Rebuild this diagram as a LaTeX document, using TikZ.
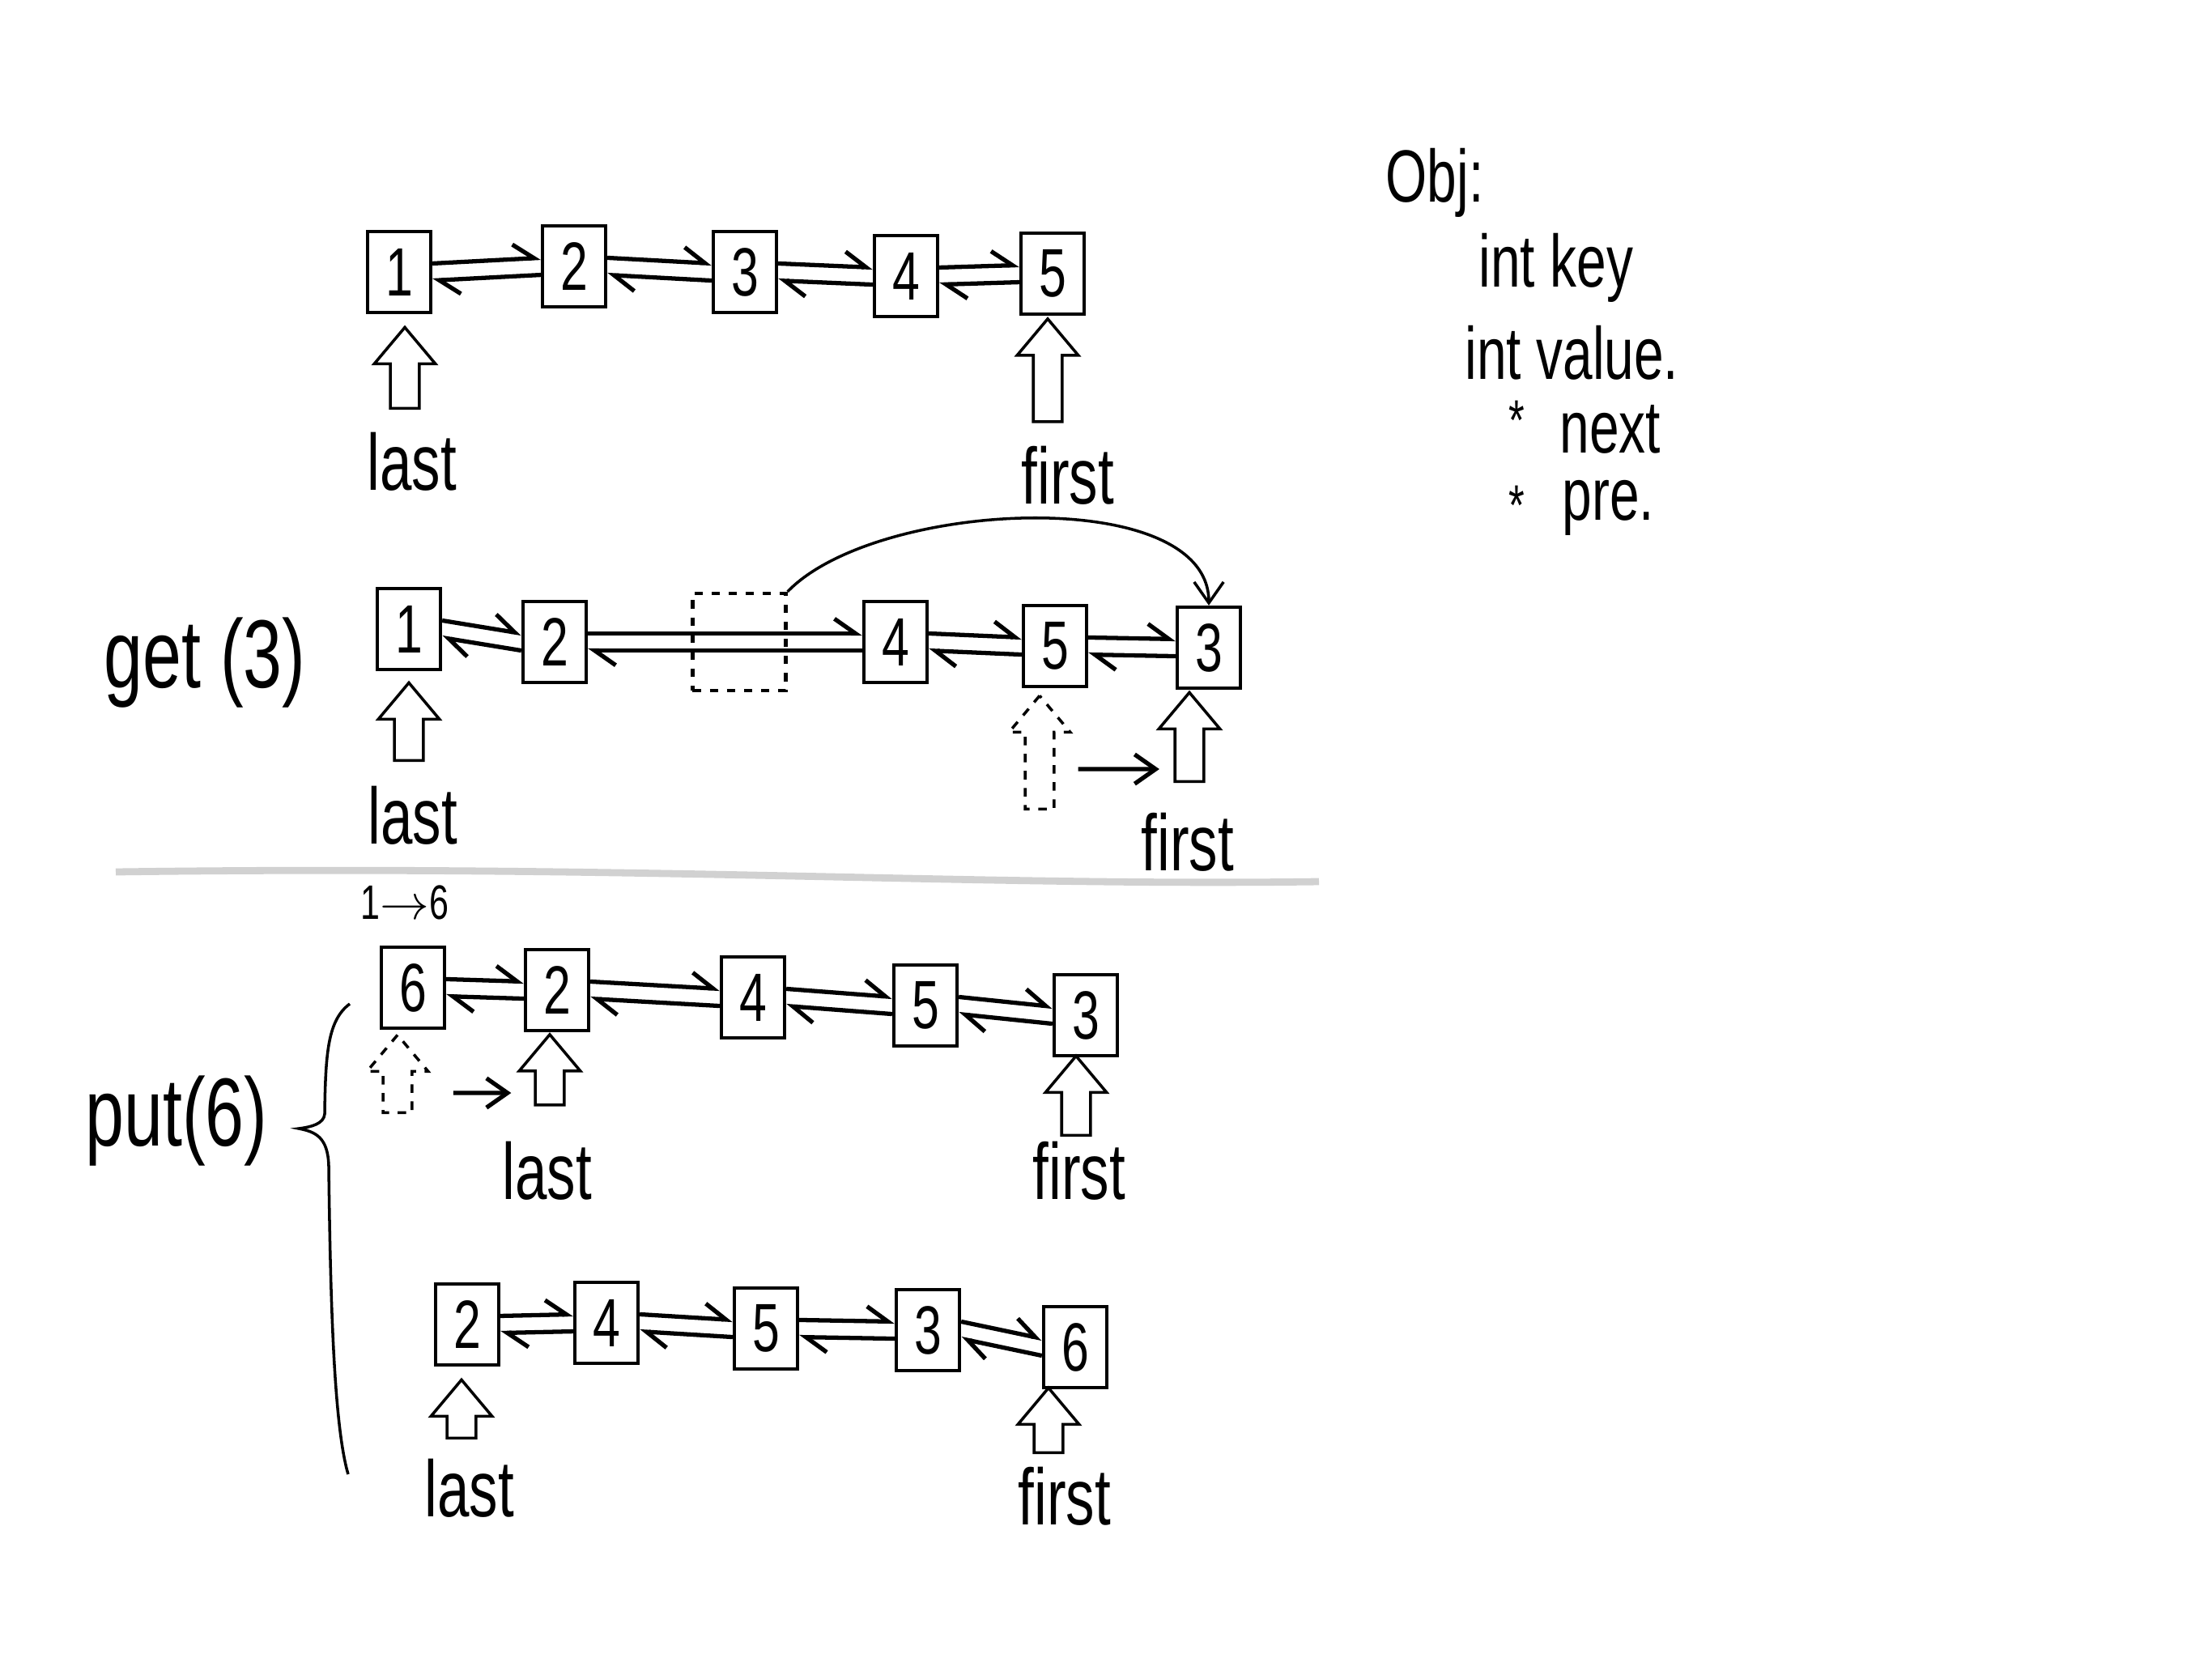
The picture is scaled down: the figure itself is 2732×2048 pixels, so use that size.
\documentclass[tikz,border=0pt]{standalone}
\usepackage{fontspec}
\setmainfont[FakeStretch=0.72]{Liberation Sans}
\usetikzlibrary{positioning,arrows.meta,shapes.arrows}

\begin{document}
\begin{tikzpicture}[x=0.01cm, y=-0.01cm, line width=1pt,
  cell/.style={draw, line width=1.2pt, minimum width=0.78cm, minimum height=1.0cm, inner sep=0pt, font=\fontsize{24}{24}\selectfont},
  hole/.style={cell, dashed, minimum width=1.15cm, minimum height=1.2cm},
  ptr/.style={draw, single arrow, shape border rotate=90, inner sep=0.16cm, single arrow head extend=0.2cm, single arrow tip angle=80},
  tag/.style={font=\fontsize{28}{28}\selectfont},
  bigtag/.style={font=\fontsize{34}{34}\selectfont},
  field/.style={anchor=west, inner sep=0pt, font=\fontsize{26}{26}\selectfont},
  star/.style={inner sep=0pt, font=\fontsize{20}{20}\selectfont},
  link/.style={line width=1.5pt, -{Straight Barb[harpoon, angle=70:9pt]}},
  move/.style={line width=1.5pt, -{Straight Barb[angle=70:9pt]}},
  jump/.style={line width=1pt, -{Straight Barb[angle=70:9pt]}}]
\useasboundingbox (0,0) rectangle (2732,2048);
% ---- initial list
\node[cell] (a1) at (493,336) {1};
\node[cell] (a2) at (709,329) {2};
\node[cell] (a3) at (920,336) {3};
\node[cell] (a4) at (1119,341) {4};
\node[cell] (a5) at (1300,338) {5};
\node[ptr, minimum height=1.0cm] (alast) at (500,465) {};
\node[ptr, minimum height=1.27cm] (afirst) at (1294,468) {};
\node[tag] at (509,570) {last};
\node[tag] at (1319,587) {first};
% ---- get(3)
\node[bigtag] (get) at (253,819) {get (3)};
\node[cell] (b1) at (505,777) {1};
\node[cell] (b2) at (685,793) {2};
\node[hole] (gap) at (913,793) {};
\node[cell] (b4) at (1106,793) {4};
\node[cell] (b5) at (1303,798) {5};
\node[cell] (b3) at (1493,800) {3};
\draw[jump] (gap.north east) .. controls +(110,-114) and +(0,-150) .. (b3.north);
\node[ptr, minimum height=0.96cm] (blast) at (505,902) {};
\node[ptr, dashed, minimum height=1.4cm] (bold) at (1284,940) {};
\node[ptr, minimum height=1.1cm] (bfirst) at (1469,921) {};
\draw[move, shorten <=8pt, shorten >=5pt] ([yshift=-0.1cm]bold.east) -- ([yshift=-0.29cm]bfirst.west);
\node[tag] at (510,1007) {last};
\node[tag] at (1467,1040) {first};
% ---- separator
\draw[black!18, line width=2.5pt] (143,1077) .. controls (800,1068) and (1200,1095) .. (1629,1089);
% ---- put(6)
\node[font=\fontsize{17}{17}\selectfont] (swap) at (500,1115) {1$\rightarrow$6};
\node[bigtag] (put) at (218,1385) {put(6)};
\draw (432,1240) .. controls (405,1260) and (402,1300) .. (401,1376)
  .. controls (400,1388) and (385,1392) .. (369,1394)
  .. controls (390,1398) and (405,1405) .. (406,1440)
  .. controls (408,1600) and (412,1760) .. (430,1821);
\node[cell] (c6) at (510,1220) {6};
\node[cell] (c2) at (688,1223) {2};
\node[cell] (c4) at (930,1232) {4};
\node[cell] (c5) at (1143,1242) {5};
\node[cell] (c3) at (1341,1254) {3};
\node[ptr, dashed, minimum height=0.96cm] (cold) at (491,1337) {};
\node[ptr, minimum height=0.87cm] (clast) at (679,1332) {};
\node[ptr, minimum height=0.98cm] (cfirst) at (1329,1364) {};
\draw[move, shorten <=14pt, shorten >=8pt] ([yshift=-0.13cm]cold.east) -- ([yshift=-0.18cm]clast.west);
\node[tag] at (676,1446) {last};
\node[tag] at (1333,1446) {first};
\node[cell] (d2) at (577,1636) {2};
\node[cell] (d4) at (749,1634) {4};
\node[cell] (d5) at (946,1641) {5};
\node[cell] (d3) at (1146,1643) {3};
\node[cell] (d6) at (1328,1664) {6};
\node[ptr, minimum height=0.72cm] (dlast) at (570,1751) {};
\node[ptr, minimum height=0.8cm] (dfirst) at (1295,1765) {};
\node[tag] at (580,1838) {last};
\node[tag] at (1315,1848) {first};
% ---- links between neighbours
\foreach \p/\q in {a1/a2,a2/a3,a3/a4,a4/a5,b1/b2,b2/b4,b4/b5,b5/b3,c6/c2,c2/c4,c4/c5,c5/c3,d2/d4,d4/d5,d5/d3,d3/d6}{
  \draw[link] ([yshift=3pt]\p.east) -- ([yshift=3pt]\q.west);
  \draw[link] ([yshift=-3pt]\q.west) -- ([yshift=-3pt]\p.east);
}
% ---- node fields
\node[field] (obj) at (1710,226) {Obj:};
\node[field] (key) at (1825,331) {int key};
\node[field] (val) at (1808,436) {int value.};
\node[star] (nstar) at (1873,519) {*};
\node[field] (nxt) at (1925,530) {next};
\node[star] (pstar) at (1873,624) {*};
\node[field] (pre) at (1928,627) {pre.};
\end{tikzpicture}
\end{document}
